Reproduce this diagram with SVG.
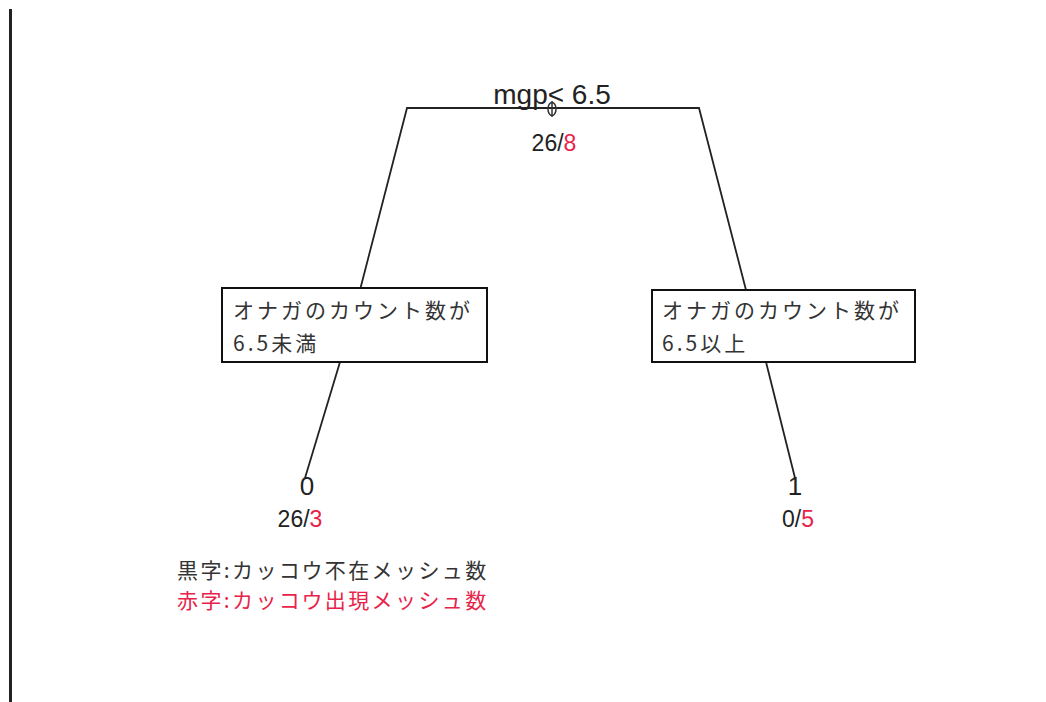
<svg xmlns="http://www.w3.org/2000/svg" width="1046" height="702" viewBox="0 0 1046 702">
<style>
.ln{stroke:#222;stroke-width:1.8;fill:none}
.bx{fill:#fff;stroke:#111;stroke-width:2}
.t{font-family:"Liberation Sans","Noto Sans CJK JP",sans-serif;fill:#222}
.j{font-family:"Noto Sans CJK JP","Liberation Sans",sans-serif;fill:#333}
.r{fill:#e8234a}
</style>
<rect width="1046" height="702" fill="#fff"/>
<line x1="10.5" y1="9" x2="10.5" y2="702" stroke="#222" stroke-width="3"/>
<g id="connectors">
<polyline class="ln" points="360,290 407,108 699,108 746,290"/>
<line class="ln" x1="340" y1="362" x2="305" y2="478"/>
<line class="ln" x1="766" y1="362" x2="795" y2="478"/>
</g>
<g id="root">
<text class="t" x="552" y="104" font-size="28" text-anchor="middle">mgp&lt; 6.5</text>
<ellipse cx="552" cy="109" rx="4" ry="6.5" fill="none" stroke="#333" stroke-width="1.5"/>
<line x1="552" y1="101" x2="552" y2="117" stroke="#333" stroke-width="1.5"/>
<text class="t" x="554" y="151" font-size="23" text-anchor="middle">26/<tspan class="r">8</tspan></text>
</g>
<g id="leftbox">
<rect class="bx" x="222" y="288" width="265" height="74"/>
<text class="j" x="233" y="318" font-size="21" letter-spacing="3">オナガのカウント数が</text>
<text class="j" x="233" y="351" font-size="21" letter-spacing="3">6.5未満</text>
</g>
<g id="rightbox">
<rect class="bx" x="652" y="290" width="263" height="72"/>
<text class="j" x="662" y="318" font-size="21" letter-spacing="3">オナガのカウント数が</text>
<text class="j" x="662" y="351" font-size="21" letter-spacing="3">6.5以上</text>
</g>
<g id="leaf0">
<text class="t" x="307" y="495" font-size="26" text-anchor="middle">0</text>
<text class="t" x="300" y="527" font-size="23" text-anchor="middle">26/<tspan class="r">3</tspan></text>
</g>
<g id="leaf1">
<text class="t" x="795" y="495" font-size="26" text-anchor="middle">1</text>
<text class="t" x="798" y="527" font-size="23" text-anchor="middle">0/<tspan class="r">5</tspan></text>
</g>
<g id="legend">
<text class="j" x="177" y="578" font-size="21" letter-spacing="2.4">黒字:カッコウ不在メッシュ数</text>
<text class="j" x="177" y="608" font-size="21" letter-spacing="2.4" style="fill:#e8234a">赤字:カッコウ出現メッシュ数</text>
</g>
</svg>
